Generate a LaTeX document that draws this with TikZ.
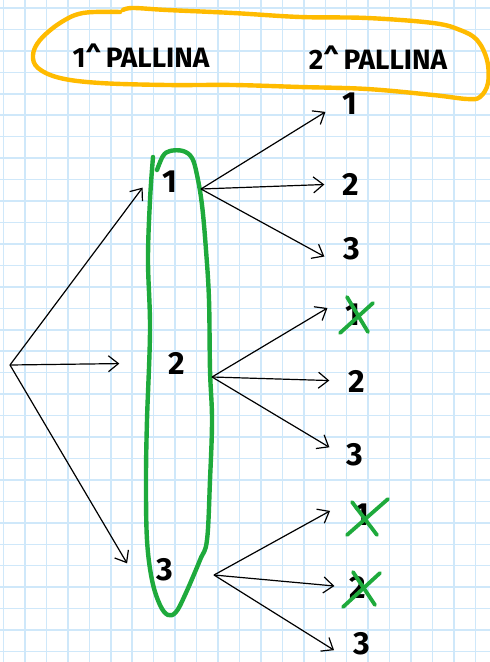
\documentclass[tikz,border=0pt]{standalone}
\usepackage{fontspec}
\setmainfont{Fira Sans}
\usetikzlibrary{arrows.meta}
\definecolor{gridblue}{RGB}{207,232,250}
\definecolor{markgreen}{RGB}{30,170,60}
\definecolor{markorange}{RGB}{255,187,0}
\tikzset{
  >={Straight Barb[length=5pt,width=8pt]},
  digit/.style={font=\fontsize{16}{19}\selectfont\bfseries, inner sep=2pt},
  title/.style={font=\fontsize{14}{17}\selectfont\bfseries},
  branch/.style={->, line width=0.6pt},
  cross/.style={markgreen, line width=1.9pt, line cap=round},
  marker/.style={line width=2.2pt, line cap=round, line join=round},
}
\begin{document}
\begin{tikzpicture}[x=0.5pt,y=-0.5pt]
  \fill[white] (0,0) rectangle (490,662);
  \useasboundingbox (0,0) rectangle (490,662);

  % squared paper
  \foreach \k in {0,...,22}
    \draw[gridblue, line width=0.75pt] ({3.5+21.45*\k},0) -- ({3.5+21.45*\k},662);
  \foreach \k in {0,...,30}
    \draw[gridblue, line width=0.75pt] (0,{8+21.45*\k}) -- (490,{8+21.45*\k});

  % titles
  \node[title] (t1) at (141,56) {1\textasciicircum\,PALLINA};
  \node[title] (t2) at (378,58) {2\textasciicircum\,PALLINA};
  \draw[markorange, marker] plot[smooth, tension=0.6] coordinates {
    (120,12) (83,13) (60,23) (40,40) (33,55) (38,68) (60,78) (100,83)
    (167,85) (233,85) (300,87) (367,89) (433,95) (467,99) (480,97)
    (488,83) (487,60) (477,40) (460,30) (433,23) (367,18) (300,17)
    (233,13) (167,10) (133,8) (123,10)};

  % first ball
  \coordinate (root) at (10,365);
  \node[digit] (a1) at (170,182) {1};
  \node[digit] (a2) at (177,363) {2};
  \node[digit] (a3) at (165,570) {3};
  \draw[markgreen, marker] plot[smooth, tension=0.6] coordinates {
    (153,157) (150,200) (148,260) (150,330) (147,420) (146,480)
    (147,540) (152,580) (160,605) (168,615) (176,612) (185,595)
    (200,560) (207,540) (210,480) (212,420) (210,370) (209,300)
    (206,250) (202,205) (197,175) (192,158) (183,151) (170,151)
    (163,156) (157,170)};

  \draw[branch, shorten >=13pt] (root) -- (a1.north west);
  \draw[branch, shorten >=22.5pt] (root) -- (a2.west);
  \draw[branch, shorten >=13pt] (root) -- ([xshift=-6pt]a3.south west);

  % second ball
  \node[digit] (b11) at (350,104) {1};
  \node[digit] (b12) at (351,184) {2};
  \node[digit] (b13) at (352,249) {3};
  \node[digit] (b21) at (353,315) {1};
  \node[digit] (b22) at (357,381) {2};
  \node[digit] (b23) at (355,455) {3};
  \node[digit] (b31) at (362,515) {1};
  \node[digit] (b32) at (358,587) {2};
  \node[digit] (b33) at (362,644) {3};

  \coordinate (o1) at (201,189);
  \coordinate (o2) at (212,377);
  \coordinate (o3) at (214,575);

  \draw[branch, shorten >=7.5pt] (o1) -- (b11.west);
  \draw[branch, shorten >=7pt] (o1) -- (b12.west);
  \draw[branch, shorten >=8.5pt] (o1) -- (b13.south west);
  \draw[branch, shorten >=8pt] (o2) -- (b21.north west);
  \draw[branch, shorten >=7.5pt] (o2) -- (b22.west);
  \draw[branch, shorten >=7.5pt] (o2) -- (b23.west);
  \draw[branch, shorten >=11.5pt] (o3) -- (b31.north west);
  \draw[branch, shorten >=5.5pt] (o3) -- (b32.west);
  \draw[branch, shorten >=9pt] (o3) -- (b33.south west);

  % crossed out
  \draw[cross] ([shift={(-13,18)}]b21.center) -- ([shift={(20,-12)}]b21.center);
  \draw[cross] ([shift={(-6,-18)}]b21.center) -- ([shift={(15,17)}]b21.center);
  \draw[cross] ([shift={(-15,20)}]b31.center) -- ([shift={(26,-16)}]b31.center);
  \draw[cross] ([shift={(-10,-13)}]b31.center) -- ([shift={(15,20)}]b31.center);
  \draw[cross] ([shift={(-15,20)}]b32.center) -- ([shift={(22,-14)}]b32.center);
  \draw[cross] ([shift={(-5,-15)}]b32.center) -- ([shift={(17,18)}]b32.center);
\end{tikzpicture}
\end{document}
